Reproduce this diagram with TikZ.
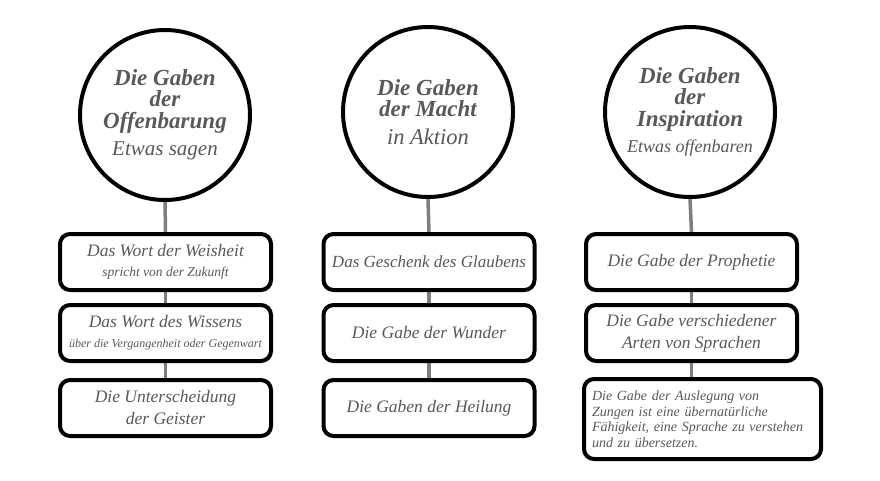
\documentclass[tikz,border=0pt]{standalone}
\usepackage{fontspec}
\setmainfont{Liberation Serif}
\usetikzlibrary{backgrounds}
\definecolor{txt}{HTML}{595959}
\definecolor{linkgray}{HTML}{7F7F7F}
\begin{document}
\begin{tikzpicture}[x=1pt,y=-1pt,
  hub/.style={circle,draw=black,line width=4pt,fill=white,minimum size=170pt,inner sep=0pt,align=center,text=txt,font=\itshape\bfseries\fontsize{23}{21.5}\selectfont},
  gift/.style={rounded corners=10pt,draw=black,line width=4pt,fill=white,minimum width=211pt,minimum height=56pt,inner sep=2pt,align=center,text=txt,font=\itshape\fontsize{17.5}{22}\selectfont},
  link/.style={draw=linkgray,line width=3.5pt}]
\useasboundingbox (0,0) rectangle (880,480);

% circles
\node[hub] (c1) at (165,115) {Die Gaben\\der\\Offenbarung\\[6pt]\mdseries\fontsize{21}{22}\selectfont Etwas sagen};
\node[hub] (c2) at (428,112) {Die Gaben\\der Macht\\[6pt]\mdseries\fontsize{22.5}{22}\selectfont in Aktion};
\node[hub] (c3) at (690,112) {Die Gaben\\der\\Inspiration\\[5pt]\mdseries\fontsize{18}{20}\selectfont Etwas offenbaren};

% column 1
\node[gift] (b11) at (165.5,262) {Das Wort der Weisheit\\[-2pt]\fontsize{13.5}{16}\selectfont spricht von der Zukunft};
\node[gift] (b12) at (165.5,333) {Das Wort des Wissens\\[-2pt]\fontsize{12}{15}\selectfont über die Vergangenheit oder Gegenwart};
\node[gift] (b13) at (165.5,408) {Die Unterscheidung\\der Geister};

% column 2
\node[gift,font=\itshape\fontsize{17}{22}\selectfont] (b21) at (429,262) {Das Geschenk des Glaubens};
\node[gift] (b22) at (429,333) {Die Gabe der Wunder};
\node[gift] (b23) at (429,408) {Die Gaben der Heilung};

% column 3
\node[gift] (b31) at (691.5,262) {Die Gabe der Prophetie};
\node[gift] (b32) at (691.5,333) {Die Gabe verschiedener\\Arten von Sprachen};
\node[gift,minimum width=237pt,minimum height=80pt,text width=221pt,inner xsep=8pt,align=left,font=\itshape\fontsize{14}{15.5}\selectfont] (b33) at (702.5,419) {Die Gabe der Auslegung von\\Zungen ist eine übernatürliche\\Fähigkeit, eine Sprache zu verstehen\\und zu übersetzen.};

\begin{scope}[on background layer]
\fill[white] (0,0) rectangle (880,480);
\draw[link] (c1.south) -- (b11.north);
\draw[link] (b11.south) -- (b12.north);
\draw[link] (b12.south) -- (b13.north);
\draw[link] (c2.south) -- (b21.north);
\draw[link] (b21.south) -- (b22.north);
\draw[link] (b22.south) -- (b23.north);
\draw[link] (c3.south) -- (b31.north);
\draw[link] (b31.south) -- (b32.north);
\draw[link] (b32.south) -- (b33.north -| b32.south);
\end{scope}
\end{tikzpicture}
\end{document}
